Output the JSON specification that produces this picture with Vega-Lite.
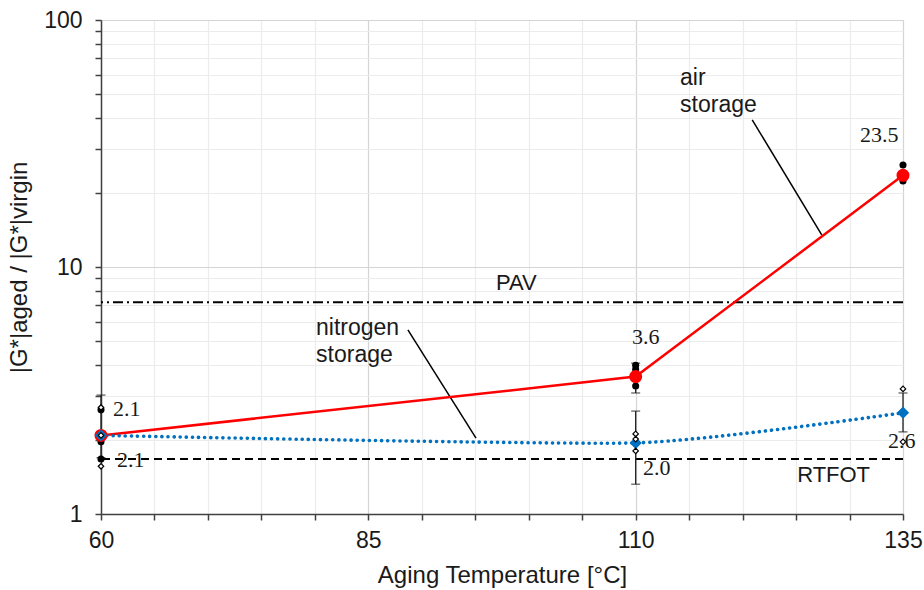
{
  "$schema": "https://vega.github.io/schema/vega-lite/v6.json",
  "autosize": {"type": "none"},
  "width": 802,
  "height": 494,
  "padding": {"left": 101, "top": 20, "right": 21, "bottom": 76},
  "background": "white",
  "config": {
    "view": {"stroke": null},
    "axis": {"labelFont": "Liberation Sans", "titleFont": "Liberation Sans", "labelColor": "#1a1a1a", "titleColor": "#1a1a1a", "titleFontWeight": "normal", "domainColor": "#404040", "tickColor": "#404040", "domainWidth": 1.5, "tickWidth": 1.5}
  },
  "datasets": {
    "means": [
      {"temp": 60, "ratio": 2.08, "series": "air"},
      {"temp": 110, "ratio": 3.6, "series": "air"},
      {"temp": 135, "ratio": 23.5, "series": "air"},
      {"temp": 60, "ratio": 2.08, "series": "nitrogen"},
      {"temp": 110, "ratio": 1.94, "series": "nitrogen"},
      {"temp": 135, "ratio": 2.57, "series": "nitrogen"}
    ],
    "airReps": [
      {"temp": 60, "ratio": 2.64},
      {"temp": 60, "ratio": 1.96},
      {"temp": 60, "ratio": 1.67},
      {"temp": 110, "ratio": 4.0},
      {"temp": 110, "ratio": 3.85},
      {"temp": 110, "ratio": 3.3},
      {"temp": 135, "ratio": 25.9},
      {"temp": 135, "ratio": 22.3}
    ],
    "n2Reps": [
      {"temp": 60, "ratio": 2.7},
      {"temp": 60, "ratio": 2.08},
      {"temp": 60, "ratio": 1.56},
      {"temp": 110, "ratio": 2.11},
      {"temp": 110, "ratio": 2.01},
      {"temp": 110, "ratio": 1.8},
      {"temp": 135, "ratio": 3.21},
      {"temp": 135, "ratio": 1.96}
    ],
    "errors": [
      {"temp": 60, "lo": 1.69, "hi": 3.03},
      {"temp": 110, "lo": 3.09, "hi": 4.08},
      {"temp": 110, "lo": 1.32, "hi": 2.61},
      {"temp": 135, "lo": 2.15, "hi": 3.09}
    ],
    "refs": [
      {"name": "PAV", "ratio": 7.2},
      {"name": "RTFOT", "ratio": 1.67}
    ],
    "leaders": [
      {"t1": 120.9, "r1": 39.4, "t2": 127.4, "r2": 13.5},
      {"t1": 88.7, "r1": 5.56, "t2": 95.07, "r2": 2.03}
    ],
    "valueLabels": [
      {"temp": 61.12, "ratio": 2.66, "text": "2.1"},
      {"temp": 61.5, "ratio": 1.654, "text": "2.1"},
      {"temp": 109.66, "ratio": 5.21, "text": "3.6"},
      {"temp": 130.98, "ratio": 34.2, "text": "23.5"},
      {"temp": 110.69, "ratio": 1.535, "text": "2.0"},
      {"temp": 133.6, "ratio": 1.975, "text": "2.6"}
    ],
    "seriesNotes": [
      {"temp": 114.15, "ratio": 58.2, "text": "air"},
      {"temp": 114.15, "ratio": 45.3, "text": "storage"},
      {"temp": 80.11, "ratio": 5.66, "text": "nitrogen"},
      {"temp": 80.11, "ratio": 4.40, "text": "storage"}
    ],
    "refNotes": [
      {"temp": 96.94, "ratio": 8.61, "text": "PAV"},
      {"temp": 125.1, "ratio": 1.438, "text": "RTFOT"}
    ]
  },
  "encoding": {
    "x": {
      "field": "temp", "type": "quantitative",
      "scale": {"domain": [60, 135], "nice": false, "zero": false},
      "axis": {
        "title": "Aging Temperature [°C]",
        "values": [60, 65, 70, 75, 80, 85, 90, 95, 100, 105, 110, 115, 120, 125, 130, 135],
        "labelExpr": "datum.value % 25 == 10 ? datum.label : ''",
        "labelOverlap": false, "labelFlush": false,
        "labelFontSize": 23, "tickSize": 6, "labelPadding": 9,
        "titleFontSize": 24, "titlePadding": 11,
        "grid": true,
        "gridColor": {"condition": {"test": "datum.value % 25 == 10", "value": "#d4d4d4"}, "value": "#ececec"},
        "gridWidth": 1.2
      }
    },
    "y": {
      "field": "ratio", "type": "quantitative",
      "scale": {"type": "log", "domain": [1, 100], "nice": false},
      "axis": {
        "title": "|G*|aged / |G*|virgin",
        "values": [1, 2, 3, 4, 5, 6, 7, 8, 9, 10, 20, 30, 40, 50, 60, 70, 80, 90, 100],
        "format": "~g",
        "labelExpr": "indexof([1, 10, 100], datum.value) >= 0 ? datum.label : ''",
        "labelOverlap": false, "labelFlush": false,
        "labelFontSize": 23, "tickSize": 6, "labelPadding": 13,
        "titleFontSize": 24, "titlePadding": 12,
        "grid": true,
        "gridColor": {"condition": {"test": "indexof([1, 10, 100], datum.value) >= 0", "value": "#d4d4d4"}, "value": "#ececec"},
        "gridWidth": 1.2
      }
    }
  },
  "layer": [
    {
      "data": {"name": "refs"},
      "mark": {"type": "rule", "color": "black", "strokeWidth": 2},
      "encoding": {
        "x": null,
        "y": {"field": "ratio", "type": "quantitative"},
        "strokeDash": {"field": "name", "type": "nominal", "scale": {"domain": ["PAV", "RTFOT"], "range": [[10, 4, 2, 4], [8, 5]]}, "legend": null}
      }
    },
    {
      "data": {"name": "leaders"},
      "mark": {"type": "rule", "color": "black", "strokeWidth": 1.5},
      "encoding": {
        "x": {"field": "t1", "type": "quantitative"},
        "x2": {"field": "t2"},
        "y": {"field": "r1", "type": "quantitative"},
        "y2": {"field": "r2"}
      }
    },
    {
      "data": {"name": "errors"},
      "mark": {"type": "rule", "color": "#222", "strokeWidth": 1.3},
      "encoding": {
        "y": {"field": "lo", "type": "quantitative"},
        "y2": {"field": "hi"}
      }
    },
    {
      "data": {"name": "errors"},
      "mark": {"type": "tick", "orient": "horizontal", "color": "#222", "size": 9, "thickness": 1.3},
      "encoding": {"y": {"field": "lo", "type": "quantitative"}}
    },
    {
      "data": {"name": "errors"},
      "mark": {"type": "tick", "orient": "horizontal", "color": "#222", "size": 9, "thickness": 1.3},
      "encoding": {"y": {"field": "hi", "type": "quantitative"}}
    },
    {
      "data": {"name": "means"},
      "transform": [{"filter": "datum.series == 'air'"}],
      "mark": {"type": "line", "color": "#ff0000", "strokeWidth": 2.5},
      "encoding": {}
    },
    {
      "data": {"name": "means"},
      "transform": [{"filter": "datum.series == 'nitrogen'"}],
      "mark": {"type": "line", "color": "#0070c0", "strokeWidth": 3.6, "strokeDash": [0.1, 6], "strokeCap": "round", "interpolate": "cardinal", "tension": 0.45},
      "encoding": {}
    },
    {
      "data": {"name": "airReps"},
      "mark": {"type": "point", "shape": "circle", "filled": true, "color": "black", "size": 50, "opacity": 1},
      "encoding": {}
    },
    {
      "data": {"name": "means"},
      "mark": {"type": "point", "filled": true, "opacity": 1},
      "encoding": {
        "shape": {"field": "series", "type": "nominal", "scale": {"domain": ["air", "nitrogen"], "range": ["circle", "diamond"]}, "legend": null},
        "color": {"field": "series", "type": "nominal", "scale": {"domain": ["air", "nitrogen"], "range": ["#ff0000", "#0070c0"]}, "legend": null},
        "size": {"field": "series", "type": "nominal", "scale": {"domain": ["air", "nitrogen"], "range": [170, 150]}, "legend": null}
      }
    },
    {
      "data": {"name": "n2Reps"},
      "mark": {"type": "point", "shape": "diamond", "filled": true, "fill": "white", "stroke": "black", "strokeWidth": 1.2, "size": 30, "opacity": 1},
      "encoding": {}
    },
    {
      "data": {"name": "valueLabels"},
      "mark": {"type": "text", "font": "Liberation Serif", "fontSize": 22, "color": "#1a1a1a", "baseline": "middle", "align": "left"},
      "encoding": {"text": {"field": "text"}}
    },
    {
      "data": {"name": "seriesNotes"},
      "mark": {"type": "text", "font": "Liberation Sans", "fontSize": 23, "color": "#1a1a1a", "baseline": "middle", "align": "left"},
      "encoding": {"text": {"field": "text"}}
    },
    {
      "data": {"name": "refNotes"},
      "mark": {"type": "text", "font": "Liberation Sans", "fontSize": 22, "color": "#1a1a1a", "baseline": "middle", "align": "left"},
      "encoding": {"text": {"field": "text"}}
    }
  ]
}
